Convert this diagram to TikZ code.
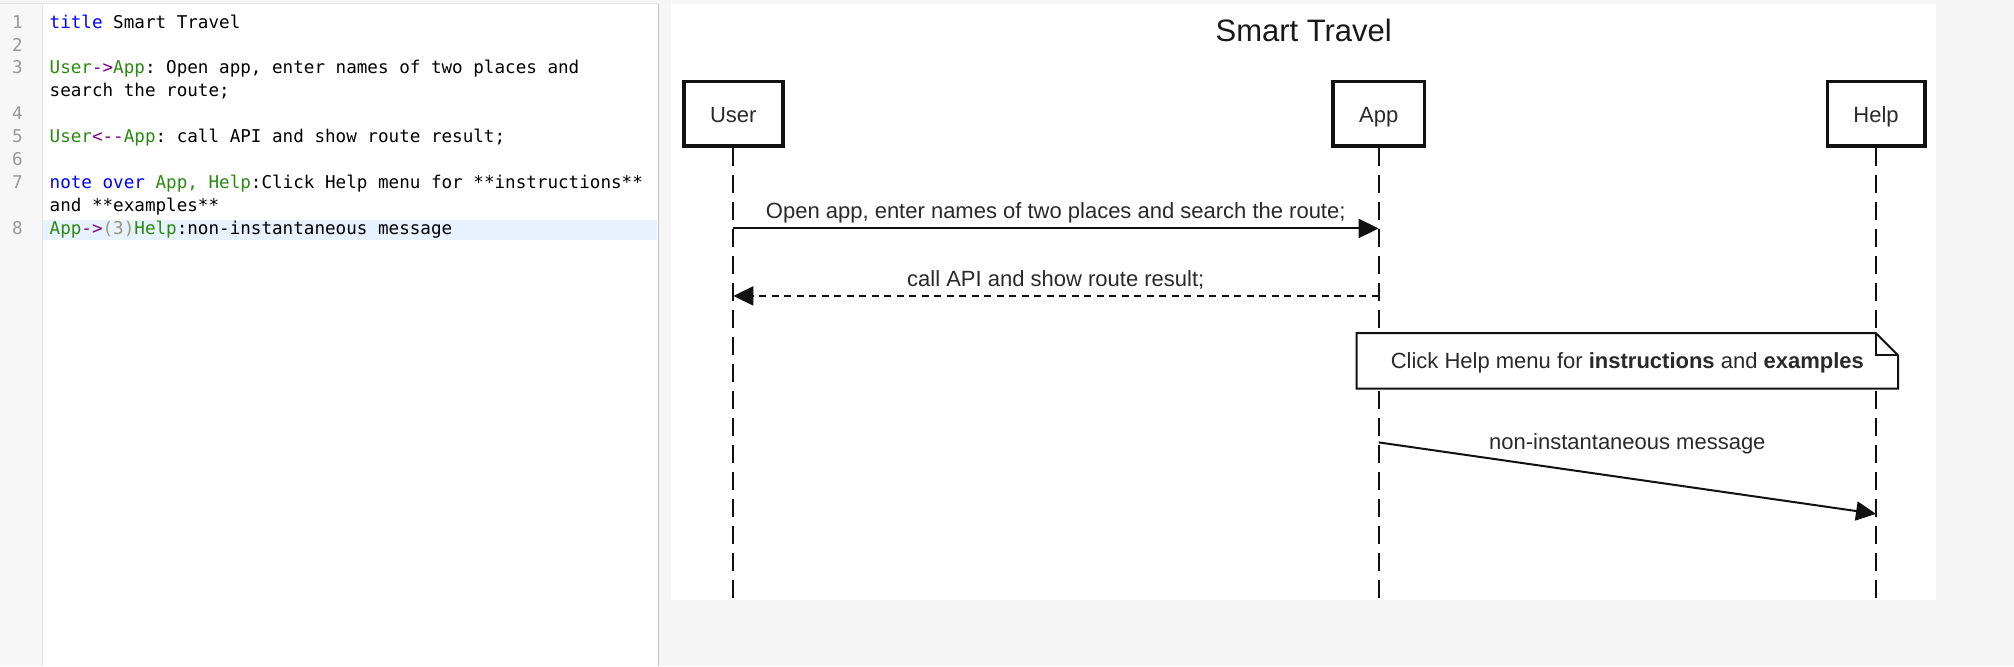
\documentclass[tikz,border=0pt]{standalone}
\usepackage{fontspec}
\setmainfont{Liberation Sans}
\setmonofont{DejaVu Sans Mono}
\usetikzlibrary{arrows.meta,calc}
\definecolor{pagebg}{HTML}{F5F5F5}
\definecolor{gutterbg}{HTML}{F7F7F7}
\definecolor{gutterln}{HTML}{E2E2E2}
\definecolor{panelln}{HTML}{C4C4C4}
\definecolor{hiline}{HTML}{E8F2FF}
\definecolor{kwblue}{HTML}{0000FF}
\definecolor{nmgreen}{HTML}{2A8A10}
\definecolor{oppurple}{HTML}{770088}
\definecolor{brgray}{HTML}{999977}
\definecolor{lnum}{HTML}{999999}
\definecolor{ink}{HTML}{2A2A2A}
\definecolor{strk}{HTML}{111111}
\newcommand{\kwc}[1]{\textcolor{kwblue}{#1}}
\newcommand{\nmc}[1]{\textcolor{nmgreen}{#1}}
\newcommand{\opc}[1]{\textcolor{oppurple}{#1}}
\newcommand{\brc}[1]{\textcolor{brgray}{#1}}
\begin{document}
\begin{tikzpicture}[x=1pt,y=-1pt,
  codeline/.style={anchor=base west, inner sep=0pt, font=\ttfamily\fontsize{17.6}{20}\selectfont, text=black},
  linenum/.style={anchor=base, inner sep=0pt, font=\ttfamily\fontsize{17.6}{20}\selectfont, text=lnum},
  actor/.style={draw=strk, line width=3.5pt, fill=white, minimum height=64.5pt, inner sep=0pt,
    text height=20pt, text depth=3pt, font=\fontsize{22}{26}\selectfont, text=ink},
  lifeline/.style={draw=strk, line width=2pt, dash pattern=on 18pt off 9pt},
  msg/.style={draw=strk, line width=2pt, -{Triangle[length=20pt,width=19pt]}},
  retmsg/.style={draw=strk, line width=2pt, dash pattern=on 7pt off 5.5pt, -{Triangle[length=20pt,width=19pt]}},
  msglabel/.style={anchor=base, inner sep=0pt, font=\fontsize{22}{26}\selectfont, text=ink},
  notebox/.style={draw=strk, line width=2pt, fill=white, line join=miter}
]
% page background and panels
\fill[pagebg] (0,0) rectangle (2014,666);
\fill[white] (0,4) rectangle (658,666);
\fill[gutterbg] (0,4) rectangle (42,666);
\draw[gutterln, line width=1pt] (42,4) -- (42,666);
\draw[gutterln, line width=1pt] (0,4) -- (658,4);
\draw[panelln, line width=1.2pt] (658,4) -- (658,666);
\fill[hiline] (43,220.5) rectangle (657,240.5);
\fill[white] (671,4) rectangle (1936,600);

% code editor text
\node[linenum] (n1) at (17,28.2) {1};
\node[codeline] (c1) at (49,28.2) {\kwc{title} Smart Travel};
\node[linenum] (n2) at (17,51.1) {2};
\node[linenum] (n3) at (17,74.0) {3};
\node[codeline] (c3) at (49,74.0) {\nmc{User}\opc{->}\nmc{App}: Open app, enter names of two places and};
\node[codeline] (c3b) at (49,96.9) {search the route;};
\node[linenum] (n4) at (17,119.8) {4};
\node[linenum] (n5) at (17,142.7) {5};
\node[codeline] (c5) at (49,142.7) {\nmc{User}\opc{<-{}-}\nmc{App}: call API and show route result;};
\node[linenum] (n6) at (17,165.6) {6};
\node[linenum] (n7) at (17,188.5) {7};
\node[codeline] (c7) at (49,188.5) {\kwc{note over} \nmc{App, Help}:Click Help menu for **instructions**};
\node[codeline] (c7b) at (49,211.4) {and **examples**};
\node[linenum] (n8) at (17,234.3) {8};
\node[codeline] (c8) at (49,234.3) {\nmc{App}\opc{->}\brc{(3)}\nmc{Help}:non-instantaneous message};

% title
\node[inner sep=0pt, font=\fontsize{31}{36}\selectfont, text=black!90] (title) at (1303.5,30.6) {Smart Travel};

% participants
\node[actor, minimum width=99pt] (user) at (733,114) {User};
\node[actor, minimum width=91.5pt] (app) at (1378.5,114) {App};
\node[actor, minimum width=97.5pt] (help) at (1876,114) {Help};

% lifeline ends
\coordinate (userend) at (733,598);
\coordinate (append) at (1378.5,598);
\coordinate (helpend) at (1876,598);
\draw[lifeline] (user.south) -- (userend);
\draw[lifeline] (app.south) -- (append);
\draw[lifeline] (help.south) -- (helpend);

% message anchor points on lifelines
\coordinate (u1) at (733,228.5);
\coordinate (a1) at (1378.5,228.5);
\coordinate (u2) at (733,296);
\coordinate (a2) at (1378.5,296);
\coordinate (a3) at (1378.5,442.5);
\coordinate (h3) at (1876,514);

% message 1
\draw[msg] (u1) -- (a1);
\node[msglabel] (l1) at (1055.5,218.5) {Open app, enter names of two places and search the route;};
% message 2
\draw[retmsg] (a2) -- (u2);
\node[msglabel] (l2) at (1055.5,287) {call API and show route result;};

% note
\node[minimum width=541pt, minimum height=55pt, inner sep=0pt] (note) at (1627.25,361) {};
\draw[notebox] (note.north west) -- ($(note.north east)+(-22,0)$) -- ($(note.north east)+(0,22)$)
  -- (note.south east) -- (note.south west) -- cycle;
\draw[draw=strk, line width=2pt] ($(note.north east)+(-22,0)$) |- ($(note.north east)+(0,22)$);
\node[msglabel] (notetext) at (1627.25,369) {Click Help menu for \textbf{instructions} and \textbf{examples}};

% message 3
\draw[msg] (a3) -- (h3);
\node[msglabel] (l3) at (1627.25,450) {non-instantaneous message};
\end{tikzpicture}
\end{document}
